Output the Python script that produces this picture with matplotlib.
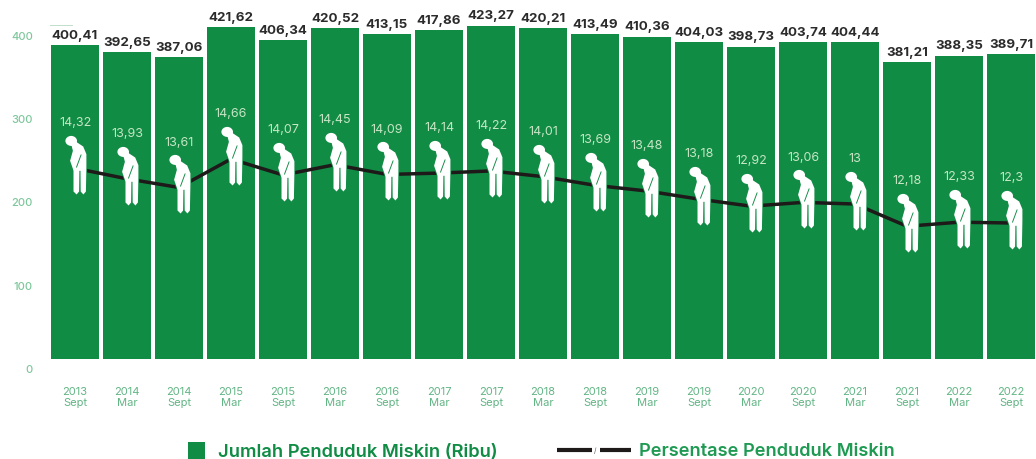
import matplotlib
matplotlib.use("Agg")
import matplotlib.pyplot as plt
from matplotlib.path import Path
from matplotlib.patches import Rectangle
from matplotlib.lines import Line2D
import numpy as np

years = ["2013","2014","2014","2015","2015","2016","2016","2017","2017","2018","2018","2019","2019","2020","2020","2021","2021","2022","2022"]
months = ["Sept","Mar","Sept","Mar","Sept","Mar","Sept","Mar","Sept","Mar","Sept","Mar","Sept","Mar","Sept","Mar","Sept","Mar","Sept"]
jumlah = [400.41,392.65,387.06,421.62,406.34,420.52,413.15,417.86,423.27,420.21,413.49,410.36,404.03,398.73,403.74,404.44,381.21,388.35,389.71]
jumlah_labels = ["400,41","392,65","387,06","421,62","406,34","420,52","413,15","417,86","423,27","420,21","413,49","410,36","404,03","398,73","403,74","404,44","381,21","388,35","389,71"]
persen = [14.32,13.93,13.61,14.66,14.07,14.45,14.09,14.14,14.22,14.01,13.69,13.48,13.18,12.92,13.06,13.0,12.18,12.33,12.3]
persen_labels = ["14,32","13,93","13,61","14,66","14,07","14,45","14,09","14,14","14,22","14,01","13,69","13,48","13,18","12,92","13,06","13","12,18","12,33","12,3"]
y_ticks = [0,100,200,300,400]

W, H = 1036, 460
GREEN = "#108C45"
LIGHT = "#62B585"
plt.rcParams['font.family'] = ['Inter', 'DejaVu Sans']
fig = plt.figure(figsize=(W/100, H/100), dpi=100)

def axes_px(x0, x1, ytop, ybot, **kw):
    return fig.add_axes([x0/W, 1-ybot/H, (x1-x0)/W, (ybot-ytop)/H], **kw)

x = list(range(len(jumlah)))
xlim = (-75/52, (W-75)/52)

# bars: the source chart's bars start from a truncated base
ax = axes_px(0, W, 0, 359.5)
ax.set_xlim(*xlim)
ax.set_ylim(35.7, 454.2)
ax.bar(x, jumlah, width=47.5/52, color=GREEN, linewidth=0)
ax.axis("off")
for i, v in enumerate(jumlah):
    ax.annotate(jumlah_labels[i], (i, v), xytext=(0, 3.0), textcoords="offset points",
                ha="center", va="bottom", fontsize=9.6, fontweight="bold", color="#2B2B2B")

# independent 0-400 scale for the tick labels, and the x labels
axl = axes_px(0, W, 36, 369)
axl.set_xlim(*xlim)
axl.set_ylim(0, 400)
axl.patch.set_alpha(0)
for s in axl.spines.values():
    s.set_visible(False)
axl.set_yticks(y_ticks)
axl.set_yticklabels([str(t) for t in y_ticks], fontsize=8, color="#7CC79B", fontweight="medium")
axl.tick_params(axis="y", length=0, pad=-23.8)
axl.set_xticks(x)
axl.set_xticklabels([f"{a}\n{b}" for a, b in zip(years, months)], fontsize=8,
                    color=LIGHT, linespacing=1.1)
axl.tick_params(axis="x", length=0, pad=13)

# stooped person marker, units = px relative to the line point (y up)
def ellipse(cx, cy, rx, ry):
    k = 0.5523
    v = [(cx+rx,cy),(cx+rx,cy+k*ry),(cx+k*rx,cy+ry),(cx,cy+ry),(cx-k*rx,cy+ry),(cx-rx,cy+k*ry),(cx-rx,cy),
         (cx-rx,cy-k*ry),(cx-k*rx,cy-ry),(cx,cy-ry),(cx+k*rx,cy-ry),(cx+rx,cy-k*ry),(cx+rx,cy)]
    c = [Path.MOVETO]+[Path.CURVE4]*12
    # reversed so that it winds the same way as the body
    return v[::-1]+[v[0]], c+[Path.CLOSEPOLY]
hv, hc = ellipse(-4.3, 27.6, 5.8, 5.0)
body = [(-3,26),(1.7,26),(7.7,22),(10.9,14.3),(10.9,2.7),(10.4,-23),(7.9,-26),(5.2,-23),(5,-2.3),
        (3.9,-2.3),(3.6,-23),(1.1,-26),(-2,-23),(-2,-2.3),(-2.7,0),(-5.4,7.7),(-2.6,17.7),(-4.3,24.3),(-3,26)]
bc = [Path.MOVETO]+[Path.LINETO]*(len(body)-2)+[Path.CLOSEPOLY]
slit = [(6.2,14),(5.2,14),(0.4,1.0),(1.4,1.0),(6.2,14)]
sc = [Path.MOVETO]+[Path.LINETO]*3+[Path.CLOSEPOLY]
person = Path(hv+body+slit, hc+bc+sc)
person_size = 2*np.max(np.abs(person.vertices))/1.389

# percentage line on its own scale
axp = axes_px(0, W, 160, 224)
axp.set_xlim(*xlim)
axp.set_ylim(12.3, 14.66)
axp.axis("off")
axp.plot(x, persen, color="#1E1A1A", lw=2.5, solid_capstyle="butt", zorder=2, clip_on=False)
# green halo cuts the line around each figure, white figure goes on top
axp.plot(x, persen, ls="none", marker=person, markersize=person_size, markerfacecolor=GREEN,
         markeredgecolor=GREEN, markeredgewidth=1.2, zorder=3, clip_on=False)
axp.plot(x, persen, ls="none", marker=person, markersize=person_size, markerfacecolor="white",
         markeredgecolor="none", markeredgewidth=0, zorder=4, clip_on=False)
for i, v in enumerate(persen):
    axp.annotate(persen_labels[i], (i, v), xytext=(0, 33), textcoords="offset points",
                 ha="center", va="center", fontsize=9, color="#C6E6C4", zorder=5, annotation_clip=False)

# legend
fig.add_artist(Rectangle((188/W, 1-460/H), 17/W, 17/H, transform=fig.transFigure, color=GREEN, lw=0))
fig.text(218/W, 1-452.5/H, "Jumlah Penduduk Miskin (Ribu)", fontsize=13.2, fontweight="semibold", color=GREEN, va="center")
fig.add_artist(Line2D([557/W, 592/W], [1-451/H]*2, transform=fig.transFigure, color="#1E1A1A", lw=3, solid_capstyle="butt"))
fig.add_artist(Line2D([600/W, 631/W], [1-451/H]*2, transform=fig.transFigure, color="#1E1A1A", lw=3, solid_capstyle="butt"))
fig.text(595.5/W, 1-451/H, "/", fontsize=5, color="#555555", ha="center", va="center")
fig.text(639/W, 1-452/H, "Persentase Penduduk Miskin", fontsize=13.1, fontweight="semibold", color="#1F9A53", va="center")
fig.add_artist(Line2D([50/W, 72/W], [1-26/H]*2, transform=fig.transFigure, color="#BFE0CB", lw=0.7))

fig.savefig("out.png", dpi=100)
